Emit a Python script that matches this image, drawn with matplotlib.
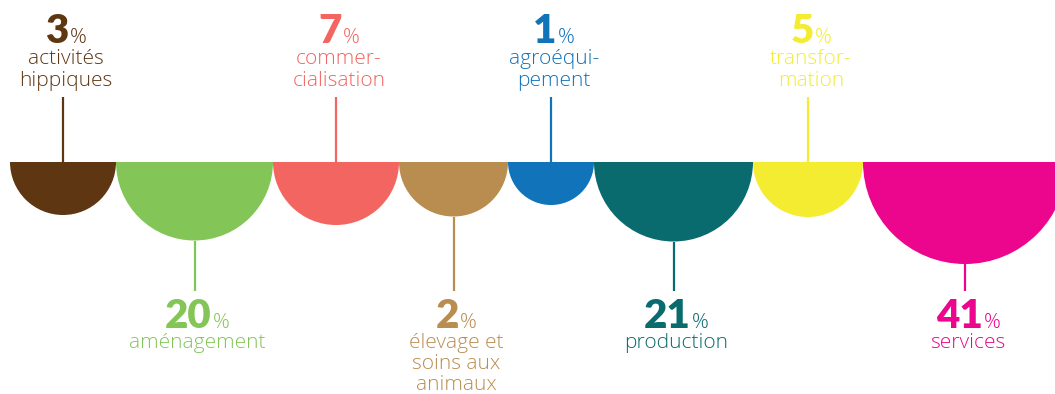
import matplotlib.pyplot as plt
from matplotlib.patches import Wedge

# share of each activity (percent)
values = [3, 20, 7, 2, 1, 21, 5, 41]
labels = [
    ["activités", "hippiques"],
    ["aménagement"],
    ["commer-", "cialisation"],
    ["élevage et", "soins aux", "animaux"],
    ["agroéqui-", "pement"],
    ["production"],
    ["transfor-", "mation"],
    ["services"],
]
# half-disc radius of each activity
radii = [53, 78.5, 63, 54.5, 43, 79.5, 55, 102]
colors = ["#5E3612", "#84C557", "#F26561", "#B98D50",
          "#1173BA", "#0A6B6E", "#F3EC30", "#EC068D"]

W, H = 1055, 394
baseline = 162
left = 10
num_font = ["Lato", "DejaVu Sans"]
txt_font = ["Open Sans", "DejaVu Sans"]

fig = plt.figure(figsize=(W / 100, H / 100), dpi=100)
ax = fig.add_axes([0, 0, 1, 1])
ax.set_xlim(0, W)
ax.set_ylim(H, 0)
ax.set_aspect("equal")
ax.axis("off")

renderer = fig.canvas.get_renderer()

edge = left
for i, (v, lab, r, c) in enumerate(zip(values, labels, radii, colors)):
    cx = edge + r
    edge = cx + r
    ax.add_patch(Wedge((cx, baseline), r, 0, 180, facecolor=c, edgecolor="none"))

    on_top = i % 2 == 0
    if on_top:
        ax.plot([cx, cx], [97, baseline], color=c, lw=1.6, solid_capstyle="butt")
        num_y, line_y, step = 43, 64, 22
    else:
        ax.plot([cx, cx], [baseline + r, 291], color=c, lw=1.6, solid_capstyle="butt")
        num_y, line_y, step = 328, 348, 21

    # big number followed by a smaller percent sign, centred on the stem
    tn = ax.text(0, num_y, str(v), color=c, fontsize=29, fontweight="heavy",
                 family=num_font, ha="left", va="baseline")
    tp = ax.text(0, num_y, "%", color=c, fontsize=15, fontweight="light",
                 family=txt_font, ha="left", va="baseline")
    wn = tn.get_window_extent(renderer).width
    wp = tp.get_window_extent(renderer).width
    gap = 1
    x0 = cx + 3 - (wn + gap + wp) / 2
    tn.set_x(x0)
    tp.set_x(x0 + wn + gap)

    for k, line in enumerate(lab):
        ax.text(cx + 3, line_y + step * k, line, color=c, fontsize=15,
                fontweight="light", family=txt_font,
                ha="center", va="baseline")

fig.savefig("out.png", dpi=100)
